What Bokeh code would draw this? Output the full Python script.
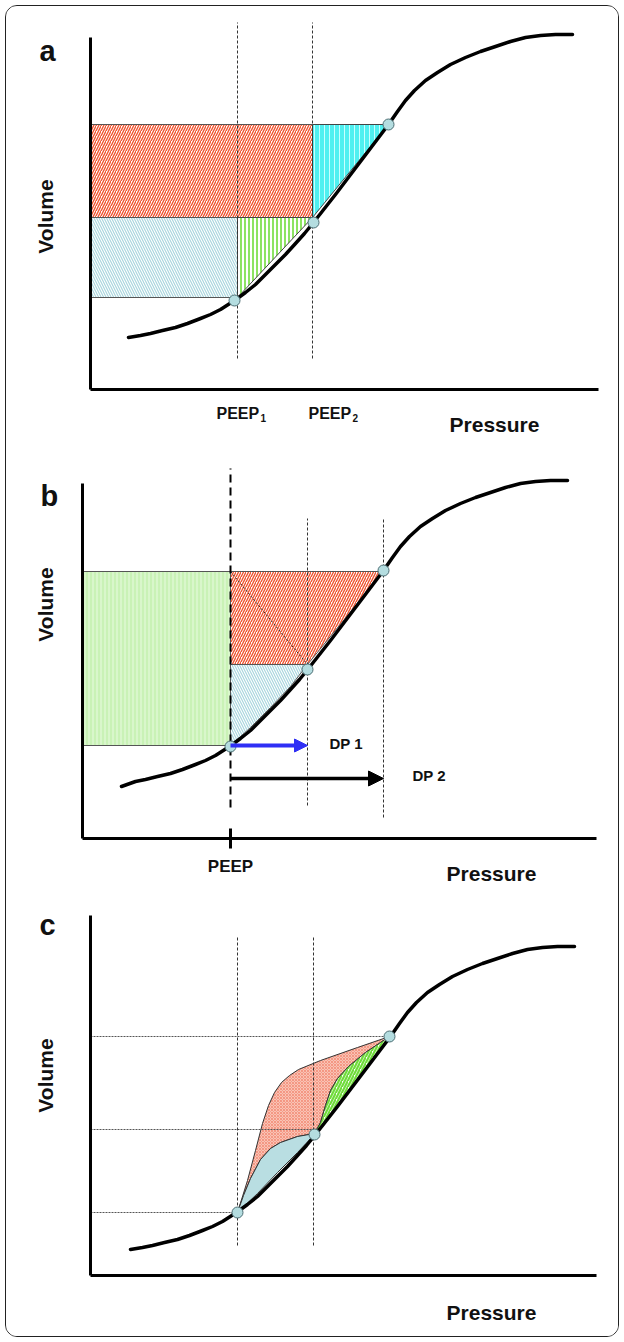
import math
from bokeh.plotting import figure
from bokeh.layouts import column
from bokeh.models import Range1d, FixedTicker, Label, Arrow, NormalHead, LinearAxis
from bokeh.embed import file_html
from bokeh.resources import INLINE

FONT = "Liberation Sans"

# ---------------- Panel a ----------------
a_curve_p = [38, 50, 60, 72, 85, 97, 110, 120, 130, 144, 155, 165, 175, 185, 195, 205, 214, 223, 245, 270,
             298, 307, 315, 324, 335, 347, 360, 375, 390, 405, 420, 435, 450, 465, 482]
a_curve_v = [52, 54, 56, 59, 62, 66, 71, 75, 80, 89, 97, 105, 115, 125, 135, 146, 156, 167, 195, 228,
             265, 278, 289, 299, 309, 317, 325, 332, 338, 343, 348, 352, 354, 355, 355]
a_peep = [147, 222]          # PEEP1, PEEP2
a_p_end = 298                # end-inspiratory pressure
a_vol = [92, 172, 265]       # volume at PEEP1, PEEP2, end-inspiration
a_pts_p = [144, 223, 298]
a_pts_v = [89, 167, 265]
a_axis = [508, 352]          # axis lengths (pressure, volume)
a_vline = [31, 367]          # extent of dashed PEEP lines

# ---------------- Panel b ----------------
b_curve_p = [39, 53, 63, 75, 88, 100, 113, 123, 133, 147, 158, 168, 178, 188, 198, 208, 217, 226, 248, 273,
             301, 310, 318, 327, 338, 350, 363, 378, 393, 408, 423, 438, 453, 468, 485]
b_curve_v = [52, 57, 59, 62, 65, 69, 74, 78, 83, 92, 100, 108, 118, 128, 138, 149, 159, 170, 198, 231,
             268, 281, 292, 302, 312, 320, 328, 335, 341, 346, 351, 355, 357, 358, 358]
b_peep = 148
b_dp = [225, 301]            # pressures reached: DP 1, DP 2
b_vol = [93, 174, 267]       # volume at PEEP, after DP 1, after DP 2
b_pts_p = [148, 225, 301]
b_pts_v = [92, 169, 268]
b_edge_p = [225, 208, 188, 168, 148]   # lower edge of blue area (along the curve)
b_edge_v = [174, 152, 131, 111, 93]
b_dp2_level = 60
b_axis = [514, 355]
b_peep_line = [31, 370]
b_dp_lines = [[33, 320], [21, 320]]

# ---------------- Panel c ----------------
c_curve_p = [40, 52, 62, 74, 87, 99, 112, 122, 132, 146, 157, 167, 177, 187, 197, 207, 216, 225, 247, 272,
             300, 309, 317, 326, 337, 349, 362, 377, 392, 407, 422, 437, 452, 467, 484]
c_curve_v = [26, 28, 30, 33, 36, 40, 45, 49, 54, 63, 71, 79, 89, 99, 109, 120, 130, 141, 169, 202,
             239, 252, 263, 273, 283, 291, 299, 306, 312, 317, 322, 326, 328, 329, 329]
c_pts_p = [147, 224, 299]
c_pts_v = [63, 141, 239]
c_levels = [63, 146, 239]
c_peep = [147, 223]
c_red_p = [147, 157, 165, 172, 178, 184, 191, 199, 208, 230, 267, 299]
c_red_v = [63, 95, 125, 152, 170, 183, 193, 200, 206, 215, 228, 239]
c_blue_top_p = [147, 153, 160, 170, 180, 190, 207, 224]
c_blue_top_v = [63, 80, 97, 116, 127, 133, 139, 142]
c_blue_bot_p = [224, 207, 187, 167, 147]
c_blue_bot_v = [141, 123, 103, 82, 63]
c_green_top_p = [224, 230, 235, 240, 247, 258, 275, 290, 299]
c_green_top_v = [142, 153, 170, 185, 197, 209, 223, 233, 239]
c_axis = [506, 360]
c_vline = [30, 340]

DASH = "3 2"


def make_fig(height, xr, yr, axis_len):
    p = figure(width=612, height=height, x_range=Range1d(*xr), y_range=Range1d(*yr),
               output_backend="svg", toolbar_location=None, title=None,
               x_axis_type=None, y_axis_type=None, min_border=0)
    p.min_border_left = p.min_border_right = p.min_border_top = p.min_border_bottom = 0
    p.grid.visible = False
    p.outline_line_color = None
    p.background_fill_color = "white"
    p.border_fill_color = "white"
    xa = LinearAxis(fixed_location=0, bounds=(0, axis_len[0]))
    ya = LinearAxis(fixed_location=0, bounds=(0, axis_len[1]))
    for ax in (xa, ya):
        ax.ticker = FixedTicker(ticks=[])
        ax.minor_tick_line_color = None
        ax.major_tick_line_color = None
        ax.major_label_text_font_size = "0px"
        ax.axis_line_width = 3
        ax.axis_line_color = "black"
    p.add_layout(xa, "below")
    p.add_layout(ya, "left")
    return p, xa


def lbl(p, x, y, text, size, **kw):
    kw.setdefault("text_baseline", "alphabetic")
    p.add_layout(Label(x=x, y=y, text=text, text_font=FONT, text_font_size=size,
                       text_font_style="bold", text_color="#111111", **kw))


# ================= Figure a =================
pa, _ = make_fig(446, (-84, 528), (-63, 383), a_axis)
pa.patch([0, a_peep[1], a_peep[1], 0], [a_vol[1], a_vol[1], a_vol[2], a_vol[2]],
         fill_color="white", hatch_pattern="/", hatch_color="#f0532f", hatch_scale=5,
         hatch_weight=1.4, line_color="#555555", line_width=1)
pa.patch([0, a_peep[0], a_peep[0], 0], [a_vol[0], a_vol[0], a_vol[1], a_vol[1]],
         fill_color="white", hatch_pattern="\\", hatch_color="#a9d6de", hatch_scale=5,
         hatch_weight=1.2, line_color="#555555", line_width=1)
pa.patch([a_peep[0], a_peep[0], a_peep[1]], [a_vol[0], a_vol[1], a_vol[1]],
         fill_color="white", hatch_pattern="|", hatch_color="#6fdc3a", hatch_scale=4,
         hatch_weight=1.6, line_color="#444444", line_width=1)
pa.patch([a_peep[1], a_peep[1], a_p_end], [a_vol[1], a_vol[2], a_vol[2]],
         fill_color="#4ff0f0", hatch_pattern="|", hatch_color="#c8ffff", hatch_scale=5,
         hatch_weight=1.0, line_color="#444444", line_width=1)
for xp in a_peep:
    pa.line([xp, xp], a_vline, line_dash=DASH, line_color="#333333", line_width=1)
pa.line(a_curve_p, a_curve_v, line_color="black", line_width=3.5, line_join="round", line_cap="round")
pa.scatter(a_pts_p, a_pts_v, size=11, fill_color="#b4dde0", line_color="#4d6e74", line_width=1)

lbl(pa, -51, 339, "a", "29px")
lbl(pa, -45, 173, "Volume", "21px", angle=math.pi / 2, text_align="center", text_baseline="middle")
lbl(pa, 126, -24, "PEEP", "16px")
lbl(pa, 170, -28, "1", "10px")
lbl(pa, 218, -24, "PEEP", "16px")
lbl(pa, 262, -28, "2", "10px")
lbl(pa, 404, -35, "Pressure", "21px", text_align="center")

# ================= Figure b =================
pb, bx = make_fig(443, (-76, 536), (-57, 386), b_axis)
bx.ticker = FixedTicker(ticks=[b_peep])
bx.major_tick_line_color = "black"
bx.major_tick_line_width = 3
bx.major_tick_in = 10
bx.major_tick_out = 10
bx.major_label_overrides = {b_peep: "PEEP"}
bx.major_label_text_font_size = "17px"
bx.major_label_text_font_style = "bold"
bx.major_label_text_font = FONT
bx.major_label_text_color = "#111111"
bx.major_label_standoff = 8

pb.patch([0, b_peep, b_peep, 0], [b_vol[0], b_vol[0], b_vol[2], b_vol[2]],
         fill_color="#c9f2b6", hatch_pattern="|", hatch_color="#e8fbe0", hatch_scale=4,
         hatch_weight=1.0, line_color="#555555", line_width=1)
pb.patch([b_peep, b_dp[1], b_dp[0], b_peep], [b_vol[2], b_vol[2], b_vol[1], b_vol[1]],
         fill_color="white", hatch_pattern="/", hatch_color="#f0532f", hatch_scale=5,
         hatch_weight=1.4, line_color="#555555", line_width=1)
pb.patch([b_peep] + b_edge_p, [b_vol[1]] + b_edge_v,
         fill_color="white", hatch_pattern="\\", hatch_color="#a9d6de", hatch_scale=5,
         hatch_weight=1.2, line_color="#555555", line_width=1)
pb.line([b_peep, b_dp[0]], [b_vol[2], b_vol[1]], line_dash="2 2", line_color="#333333", line_width=1)
pb.line([b_peep, b_peep], b_peep_line, line_dash="8 5", line_color="black", line_width=2)
for xp, ext in zip(b_dp, b_dp_lines):
    pb.line([xp, xp], ext, line_dash=DASH, line_color="#333333", line_width=1)
pb.line(b_curve_p, b_curve_v, line_color="black", line_width=3.5, line_join="round", line_cap="round")
pb.scatter(b_pts_p, b_pts_v, size=11, fill_color="#b4dde0", line_color="#4d6e74", line_width=1)
pb.add_layout(Arrow(end=NormalHead(size=13, fill_color="#2f2ff5", line_color="#2f2ff5"),
                    x_start=b_peep, y_start=b_vol[0], x_end=b_dp[0], y_end=b_vol[0],
                    line_color="#2f2ff5", line_width=4))
pb.add_layout(Arrow(end=NormalHead(size=15, fill_color="black", line_color="black"),
                    x_start=b_peep, y_start=b_dp2_level, x_end=b_dp[1], y_end=b_dp2_level,
                    line_color="black", line_width=3.5))

lbl(pb, -42, 343, "b", "29px")
lbl(pb, -37, 234, "Volume", "21px", angle=math.pi / 2, text_align="center", text_baseline="middle")
lbl(pb, 247, 95, "DP 1", "15px", text_baseline="middle")
lbl(pb, 330, 63, "DP 2", "15px", text_baseline="middle")
lbl(pb, 409, -35, "Pressure", "21px", text_align="center")

# ================= Figure c =================
pc, _ = make_fig(441, (-84, 528), (-61, 380), c_axis)
red_p = c_red_p + c_green_top_p[::-1] + c_blue_top_p[::-1]
red_v = c_red_v + c_green_top_v[::-1] + c_blue_top_v[::-1]
pc.patch(red_p, red_v, fill_color="#f9c3b5", hatch_pattern="x", hatch_color="#f07a62",
         hatch_scale=3, hatch_weight=0.6, line_color="#333333", line_width=1)
pc.patch(c_blue_top_p + c_blue_bot_p, c_blue_top_v + c_blue_bot_v, fill_color="#b9dee2",
         line_color="#333333", line_width=1)
pc.patch(c_green_top_p + [c_pts_p[1]], c_green_top_v + [c_pts_v[1]], fill_color="white",
         hatch_pattern="/", hatch_color="#6fdc3a", hatch_scale=6, hatch_weight=2.2,
         line_color="#333333", line_width=1)
for lv, xe in zip(c_levels, c_pts_p):
    pc.line([0, xe], [lv, lv], line_dash="2 1", line_color="#555555", line_width=1)
for xp in c_peep:
    pc.line([xp, xp], c_vline, line_dash=DASH, line_color="#333333", line_width=1)
pc.line(c_curve_p, c_curve_v, line_color="black", line_width=3.5, line_join="round", line_cap="round")
pc.scatter(c_pts_p, c_pts_v, size=11, fill_color="#b4dde0", line_color="#4d6e74", line_width=1)

lbl(pc, -51, 351, "c", "29px")
lbl(pc, -45, 200, "Volume", "21px", angle=math.pi / 2, text_align="center", text_baseline="middle")
lbl(pc, 401, -37, "Pressure", "21px", text_align="center")

layout = column(pa, pb, pc, spacing=0,
                styles={"margin-left": "5px", "margin-top": "5px",
                        "border": "1px solid #222222", "border-radius": "12px",
                        "overflow": "hidden"})

open("out.html", "w").write(file_html(layout, INLINE))
